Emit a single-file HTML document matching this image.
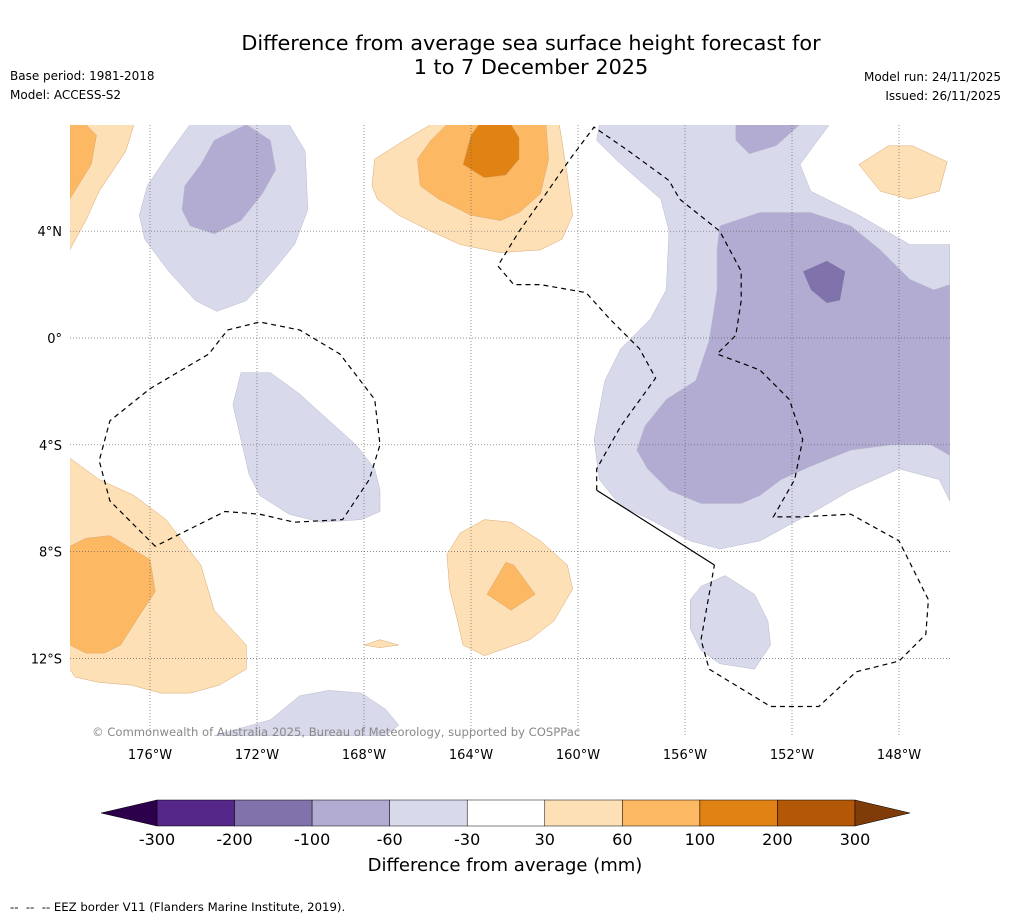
<!DOCTYPE html>
<html><head><meta charset="utf-8"><style>
body{margin:0;background:#fff;font-family:"DejaVu Sans","Liberation Sans",sans-serif;}
svg text{font-family:"DejaVu Sans","Liberation Sans",sans-serif;}
</style></head><body>
<svg id="s" width="1011" height="919" xmlns="http://www.w3.org/2000/svg">
<text x="531" y="50" text-anchor="middle" font-size="20.8">Difference from average sea surface height forecast for</text>
<text x="531" y="74" text-anchor="middle" font-size="20.8">1 to 7 December 2025</text>
<text x="10" y="80" font-size="12">Base period: 1981-2018</text>
<text x="10" y="99" font-size="12">Model: ACCESS-S2</text>
<text x="1001" y="81" font-size="12" text-anchor="end">Model run: 24/11/2025</text>
<text x="1001" y="100" font-size="12" text-anchor="end">Issued: 26/11/2025</text>
<defs><clipPath id="mc"><rect x="70" y="125" width="880" height="612"/></clipPath></defs>
<g id="map" clip-path="url(#mc)"></g>
<g id="grid"></g>
<g id="eez" clip-path="url(#mc)"></g>
<g id="ticks"></g>
<text x="92" y="736" font-size="11.6" fill="#888">© Commonwealth of Australia 2025, Bureau of Meteorology, supported by COSPPac</text>
<g id="cbar"></g>
<text x="505" y="871" text-anchor="middle" font-size="18">Difference from average (mm)</text>
<text x="10" y="911" font-size="11.7" xml:space="preserve">--  --  -- EEZ border V11 (Flanders Marine Institute, 2019).</text>
</svg>
<script>
const lonTicks=[-176,-172,-168,-164,-160,-156,-152,-148];
const latTicks=[4,0,-4,-8,-12];
const cbLevels=[-300,-200,-100,-60,-30,30,60,100,200,300];
const cbColors=["#542788","#8073ac","#b2abd2","#d8daeb","#ffffff","#fee0b6","#fdb863","#e08214","#b35806"];
const C={l1:"#d8daeb",l2:"#b2abd2",l3:"#8073ac",o1:"#fee0b6",o2:"#fdb863",o3:"#e08214"};
const contourLevels=["o1","o2","l1","l2","o1","o2","o3","l1","l2","l2","l3","l1","o1","o2","o1","o2","o1","l1","l1","o1"];
const contourPolys=[
[[-179,8],[-176.6,8],[-176.9,7],[-177.9,5.5],[-178.4,4.4],[-179,3.3]],
[[-179,8],[-178.4,8],[-178,7.6],[-178.2,6.5],[-179,5.2]],
[[-174.5,8],[-170.8,8],[-170.2,7],[-170.1,4.8],[-170.6,3.5],[-171.5,2.4],[-172.4,1.4],[-173.5,1],[-174.3,1.4],[-175.3,2.5],[-176.2,3.7],[-176.4,4.6],[-176.1,5.7],[-175.3,6.9]],
[[-173.6,7.4],[-172.4,8],[-171.5,7.4],[-171.3,6.3],[-171.8,5.4],[-172.6,4.4],[-173.6,3.9],[-174.5,4.2],[-174.8,4.8],[-174.7,5.7],[-174.1,6.5]],
[[-165.5,8],[-160.7,8],[-160.4,6.1],[-160.2,4.6],[-160.6,3.7],[-161.4,3.3],[-162.9,3.2],[-164.4,3.5],[-165.5,4],[-166.7,4.6],[-167.5,5.2],[-167.7,5.7],[-167.6,6.7],[-166.5,7.4]],
[[-164.9,8],[-161.2,8],[-161.1,6.7],[-161.4,5.4],[-162.2,4.7],[-162.9,4.4],[-164,4.6],[-165.2,5.2],[-165.9,5.7],[-166,6.7],[-165.5,7.4]],
[[-163.7,8],[-162.5,8],[-162.2,7.5],[-162.2,6.7],[-162.7,6.1],[-163.5,6],[-164.3,6.5],[-164,7.6]],
[[-159.2,8],[-150.6,8],[-151.7,6.5],[-151.3,5.5],[-149.5,4.6],[-147.6,3.5],[-146.1,3.5],[-146.1,-6.1],[-146.5,-5.3],[-148,-4.9],[-149.8,-5.7],[-151,-6.4],[-152.1,-7],[-153.2,-7.6],[-154.7,-7.9],[-155.8,-7.6],[-157.3,-6.8],[-158.4,-6.3],[-159.2,-5.3],[-159.4,-3.8],[-159.2,-2.7],[-159,-1.6],[-158.4,-0.4],[-157.3,0.7],[-156.7,1.8],[-156.6,4],[-156.9,5.2],[-157.7,5.9],[-158.6,6.7],[-159.3,7.4]],
[[-154.1,8],[-151.7,8],[-152.6,7.2],[-153.6,6.9],[-154.1,7.4]],
[[-154.7,4.2],[-153.2,4.7],[-151.3,4.7],[-149.8,4.2],[-148.7,3.3],[-147.6,2.2],[-146.7,1.8],[-146.1,2],[-146.1,-4.4],[-146.8,-4],[-148.3,-4],[-149.8,-4.2],[-151.3,-4.8],[-152.4,-5.3],[-153.2,-5.9],[-153.9,-6.2],[-155.4,-6.2],[-156.6,-5.7],[-157.4,-4.9],[-157.8,-4.2],[-157.5,-3.3],[-156.7,-2.3],[-155.6,-1.6],[-155.1,-0.1],[-154.8,1.8],[-154.8,3.3]],
[[-151.6,2.5],[-150.7,2.9],[-150,2.5],[-150.2,1.4],[-150.7,1.3],[-151.3,1.8]],
[[-172.6,-1.3],[-171.5,-1.3],[-170.4,-2.1],[-169.3,-3.1],[-168.3,-4],[-167.6,-4.9],[-167.4,-5.7],[-167.4,-6.5],[-168.1,-6.8],[-169.6,-6.9],[-170.8,-6.6],[-171.9,-5.9],[-172.3,-5.1],[-172.6,-3.8],[-172.9,-2.5]],
[[-179,-4.5],[-177.9,-5.3],[-176.6,-5.9],[-175.4,-6.8],[-174.1,-8.5],[-173.6,-10.2],[-172.4,-11.5],[-172.4,-12.4],[-173.4,-13],[-174.5,-13.3],[-175.6,-13.3],[-176.7,-13],[-177.9,-12.9],[-178.8,-12.7],[-179,-12.4]],
[[-179,-7.8],[-178.4,-7.5],[-177.5,-7.4],[-176,-8.3],[-175.8,-9.5],[-176.4,-10.4],[-177.1,-11.5],[-177.7,-11.8],[-178.4,-11.8],[-179,-11.5]],
[[-164.4,-7.3],[-163.5,-6.8],[-162.5,-6.9],[-161.4,-7.6],[-160.4,-8.5],[-160.2,-9.4],[-160.9,-10.6],[-161.8,-11.3],[-163.5,-11.9],[-164.3,-11.5],[-164.5,-10.6],[-164.8,-9.4],[-164.9,-8.1]],
[[-162.7,-8.4],[-162.4,-8.5],[-161.6,-9.6],[-162.5,-10.2],[-163.4,-9.6]],
[[-168,-11.5],[-167.4,-11.3],[-166.7,-11.5],[-167.4,-11.6]],
[[-173.6,-14.9],[-171.5,-14.3],[-170.4,-13.4],[-169.3,-13.2],[-168.1,-13.3],[-167.2,-13.9],[-166.7,-14.5],[-167.2,-14.9]],
[[-155.8,-9.8],[-155.4,-9.3],[-154.5,-8.9],[-153.4,-9.6],[-152.9,-10.6],[-152.8,-11.5],[-153.4,-12.4],[-154.7,-12.2],[-155.4,-11.7],[-155.8,-10.9]],
[[-149.5,6.5],[-148.4,7.2],[-147.5,7.2],[-146.2,6.6],[-146.5,5.5],[-147.6,5.2],[-148.7,5.5]]
];
const eezLeft=[[-175.8,-7.8],[-177.5,-6.1],[-177.9,-4.6],[-177.5,-3.1],[-176,-1.9],[-173.8,-0.6],[-173.1,0.3],[-171.9,0.6],[-170.4,0.3],[-168.9,-0.6],[-167.6,-2.3],[-167.4,-4],[-167.8,-5.3],[-168.8,-6.8],[-170.6,-6.9],[-171.9,-6.6],[-173.2,-6.5],[-175.8,-7.8]];
const eezRight=[[-159.3,-5.7],[-159.3,-4.9],[-158.4,-3.3],[-157.1,-1.5],[-157.7,-0.4],[-158.8,0.7],[-159.7,1.7],[-161.4,2],[-162.4,2],[-163,2.7],[-162.2,4],[-161.2,5.4],[-160.3,6.7],[-159.4,7.9],[-158.1,7],[-156.6,5.9],[-156.2,5.2],[-154.7,4],[-153.9,2.5],[-153.9,1.4],[-154.1,0.1],[-154.8,-0.6],[-153.2,-1.2],[-152.1,-2.3],[-151.6,-3.8],[-151.9,-5.3],[-152.7,-6.7],[-151.7,-6.7],[-149.8,-6.6],[-148,-7.6],[-146.9,-9.8],[-147,-11.1],[-148,-12.1],[-149.6,-12.5],[-151,-13.8],[-152.8,-13.8],[-155.1,-12.4],[-155.4,-11.3],[-154.9,-8.5]];
const eezSolid=[[-154.9,-8.5],[-159.3,-5.7]];

const NS="http://www.w3.org/2000/svg";
function lonX(l){return 150+(l+176)*26.75;}
function latY(l){return 338-l*26.7;}
function mk(t,a,p){const e=document.createElementNS(NS,t);for(const k in a)e.setAttribute(k,a[k]);p.appendChild(e);return e;}
function pts(arr){return arr.map(p=>lonX(p[0]).toFixed(1)+","+latY(p[1]).toFixed(1)).join(" ");}
const map=document.getElementById('map');
contourPolys.forEach((poly,i)=>{
 const c=C[contourLevels[i]];
 const e=mk('polygon',{points:pts(poly),fill:c,stroke:c[1]=='f'||c[1]=='e'?'#d9a870':'#b8b8cc','stroke-width':0.5},map);
 
 
});
const grid=document.getElementById('grid');
const ticks=document.getElementById('ticks');
lonTicks.forEach(l=>{
 const x=lonX(l);
 const g=mk('line',{x1:x,x2:x,y1:125,y2:737,stroke:'#666','stroke-width':0.7,'stroke-dasharray':'1,2'},grid);
 
 
 const t=mk('text',{x:x,y:759,'text-anchor':'middle','font-size':13},ticks);
 t.textContent=Math.abs(l)+'°W';
 
 
});
latTicks.forEach(l=>{
 const y=latY(l);
 const g=mk('line',{x1:70,x2:950,y1:y,y2:y,stroke:'#666','stroke-width':0.7,'stroke-dasharray':'1,2'},grid);
 
 
 const t=mk('text',{x:62,y:y+5,'text-anchor':'end','font-size':13},ticks);
 t.textContent=l==0?'0°':Math.abs(l)+'°'+(l>0?'N':'S');
 
 
});
const eez=document.getElementById('eez');
[eezLeft,eezRight].forEach(a=>{
 const e=mk('polyline',{points:pts(a),fill:'none',stroke:'#000','stroke-width':1.2,'stroke-dasharray':'5,4'},eez);
 
 
});
const s=mk('polyline',{points:pts(eezSolid),fill:'none',stroke:'#000','stroke-width':1.2},eez);


const cb=document.getElementById('cbar');
const x0=157,x1=855,n=cbColors.length,w=(x1-x0)/n;
cbColors.forEach((c,i)=>{
 const r=mk('rect',{x:x0+i*w,y:800,width:w,height:26,fill:c,stroke:'#000','stroke-width':0.5},cb);
 
 
});
const tl=mk('polygon',{points:`${x0},800 ${x0},826 101,813`,fill:'#2d004b',stroke:'#000','stroke-width':0.5},cb);


const tr=mk('polygon',{points:`${x1},800 ${x1},826 910,813`,fill:'#7f3b08',stroke:'#000','stroke-width':0.5},cb);


cbLevels.forEach((v,i)=>{
 const t=mk('text',{x:x0+i*w,y:845,'text-anchor':'middle','font-size':16},cb);
 t.textContent=v;
 
 
});
</script>
</body></html>
